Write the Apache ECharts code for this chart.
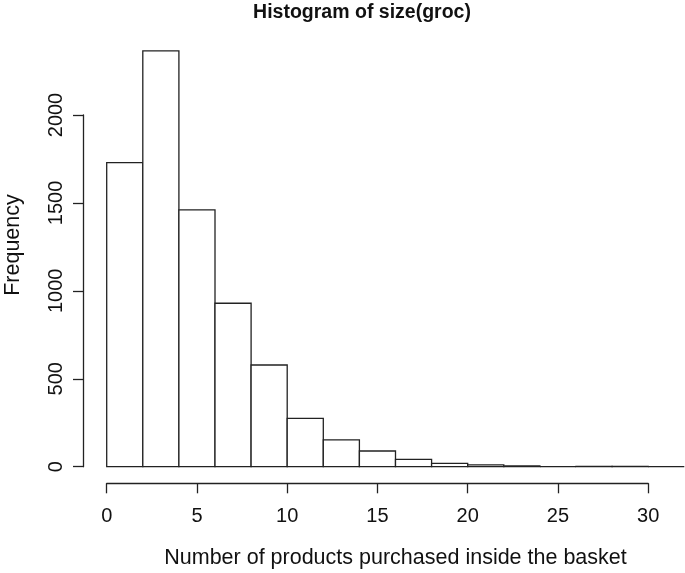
<!DOCTYPE html>
<html>
<head>
<meta charset="utf-8">
<script src="https://cdn.jsdelivr.net/npm/echarts@6/dist/echarts.min.js"></script>
<style>
html,body{margin:0;padding:0;background:#fff;}
#chart{width:685px;height:573px;}
</style>
</head>
<body>
<div id="chart"></div>
<script>
// Histogram bins (lower / upper edges) and counts
const binLower = [0, 2, 4, 6, 8, 10, 12, 14, 16, 18, 20, 22, 24, 26, 28, 30];
const binUpper = [2, 4, 6, 8, 10, 12, 14, 16, 18, 20, 22, 24, 26, 28, 30, 32];
const frequencies = [1729, 2364, 1460, 929, 578, 275, 152, 89, 42, 19, 10, 5, 0, 1, 1, 0];
const xTicks = [0, 5, 10, 15, 20, 25, 30];
const yTicks = [0, 500, 1000, 1500, 2000];
const titleText = 'Histogram of size(groc)';
const xLabel = 'Number of products purchased inside the basket';
const yLabel = 'Frequency';

const FONT = '"Liberation Sans", Arial, Helvetica, sans-serif';
const INK = '#222';

const xMinData = binLower[0], xMaxData = binUpper[binUpper.length - 1];
const xPad = (xMaxData - xMinData) * 0.04;
const yMaxData = Math.max(...frequencies);
const yPad = yMaxData * 0.04;

const data = binLower.map((lo, i) => [lo, binUpper[i], frequencies[i]]);

const chart = echarts.init(document.getElementById('chart'), null, {renderer: 'canvas'});
chart.setOption({
  animation: false,
  backgroundColor: '#fff',
  title: {
    text: titleText,
    left: 357,
    top: -2,
    textAlign: 'center',
    textStyle: {fontFamily: FONT, fontWeight: 'bold', fontSize: 19.5, color: '#111'}
  },
  grid: [
    {left: 83.6, top: 34.2, width: 623.8, height: 449.1, outerBoundsMode: 'none', containLabel: false},
    {left: 106.7, top: 34.2, width: 541.5, height: 449.1, outerBoundsMode: 'none', containLabel: false},
    {left: 83.6, top: 115, width: 100, height: 351.7, outerBoundsMode: 'none', containLabel: false},
    {left: 83.6, top: 20, width: 100, height: 450, outerBoundsMode: 'none', containLabel: false}
  ],
  xAxis: [
    {
      gridIndex: 0, type: 'value', min: xMinData - xPad, max: xMaxData + xPad,
      axisLine: {show: false}, axisTick: {show: false}, axisLabel: {show: false}, splitLine: {show: false},
      name: xLabel, nameLocation: 'middle', nameGap: 64,
      nameTextStyle: {fontFamily: FONT, fontSize: 21.5, color: '#111'}
    },
    {
      gridIndex: 1, type: 'value', min: xTicks[0], max: xTicks[xTicks.length - 1], interval: 5,
      axisLine: {show: true, lineStyle: {color: INK, width: 1.3}},
      axisTick: {show: true, inside: false, length: 10, lineStyle: {color: INK, width: 1.3}},
      axisLabel: {show: true, margin: 23, fontFamily: FONT, fontSize: 20, color: '#111',
        formatter: v => String(v)},
      splitLine: {show: false}
    },
    {gridIndex: 2, type: 'value', show: false},
    {gridIndex: 3, type: 'value', show: false}
  ],
  yAxis: [
    {
      gridIndex: 0, type: 'value', min: -yPad, max: yMaxData + yPad,
      axisLine: {show: false}, axisTick: {show: false}, axisLabel: {show: false}, splitLine: {show: false}
    },
    {gridIndex: 1, type: 'value', show: false},
    {
      gridIndex: 2, type: 'value', min: yTicks[0], max: yTicks[yTicks.length - 1], interval: 500,
      axisLine: {show: true, lineStyle: {color: INK, width: 1.3}},
      axisTick: {show: true, inside: false, length: 10.6, lineStyle: {color: INK, width: 1.3}},
      axisLabel: {show: true, rotate: 90, margin: 17, fontFamily: FONT, fontSize: 20, color: '#111',
        formatter: v => String(v)},
      splitLine: {show: false}
    },
    {
      gridIndex: 3, type: 'value', min: 0, max: 1,
      axisLine: {show: false}, axisTick: {show: false}, axisLabel: {show: false}, splitLine: {show: false},
      name: yLabel, nameLocation: 'middle', nameGap: 60, nameRotate: 90,
      nameTextStyle: {fontFamily: FONT, fontSize: 21.5, color: '#111'}
    }
  ],
  series: [{
    type: 'custom',
    xAxisIndex: 0, yAxisIndex: 0,
    data: data,
    renderItem: function (params, api) {
      const p0 = api.coord([api.value(0), 0]);
      const p1 = api.coord([api.value(1), api.value(2)]);
      return {
        type: 'rect',
        shape: {x: p0[0], y: p1[1], width: p1[0] - p0[0], height: p0[1] - p1[1]},
        style: {fill: '#fff', stroke: INK, lineWidth: 1.3}
      };
    }
  }]
});
</script>
</body>
</html>
